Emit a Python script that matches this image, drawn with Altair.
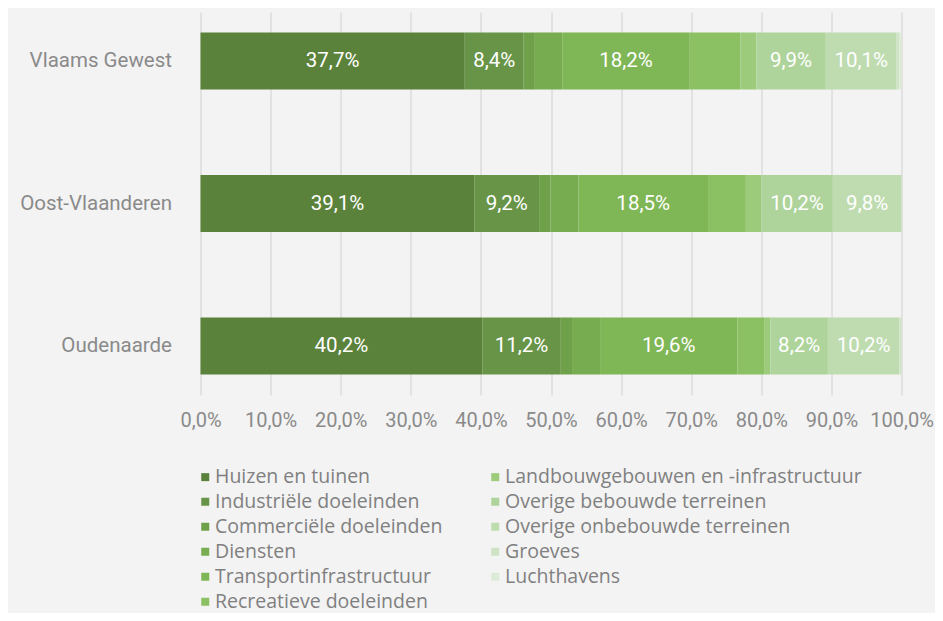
import altair as alt
import pandas as pd

regions = ["Vlaams Gewest", "Oost-Vlaanderen", "Oudenaarde"]
categories = [
    "Huizen en tuinen",
    "Industriële doeleinden",
    "Commerciële doeleinden",
    "Diensten",
    "Transportinfrastructuur",
    "Recreatieve doeleinden",
    "Landbouwgebouwen en -infrastructuur",
    "Overige bebouwde terreinen",
    "Overige onbebouwde terreinen",
    "Groeves",
    "Luchthavens",
]
colors = [
    "#5b823b", "#679446", "#6fa14a", "#77ad50", "#7fb656", "#8bc163",
    "#9ccb7c", "#aed49b", "#bedcb0", "#cfe4c5", "#dcebd5",
]
vlaams = [37.7, 8.4, 1.6, 3.9, 18.2, 7.2, 2.3, 9.9, 10.1, 0.4, 0.3]
oost = [39.1, 9.2, 1.6, 4.0, 18.5, 5.4, 2.2, 10.2, 9.8, 0.1, 0.0]
oudenaarde = [40.2, 11.2, 1.6, 4.0, 19.6, 3.8, 0.9, 8.2, 10.2, 0.3, 0.0]
x_ticks = [0, 10, 20, 30, 40, 50, 60, 70, 80, 90, 100]

rows = []
for reg, vals in zip(regions, [vlaams, oost, oudenaarde]):
    for i, (cat, v) in enumerate(zip(categories, vals)):
        rows.append({"region": reg, "category": cat, "idx": i, "value": v})
df = pd.DataFrame(rows)

FONT = "Roboto"
GRAY = "#8a8a8a"

base = alt.Chart(df).transform_stack(
    stack="value", as_=["x0", "x1"], groupby=["region"],
    sort=[alt.SortField("idx", order="ascending")],
)

y_enc = alt.Y(
    "region:N", sort=regions, title=None,
    scale=alt.Scale(paddingInner=0.6, paddingOuter=0.144),
    axis=alt.Axis(ticks=False, domain=False, labelPadding=29, labelFontSize=20.5,
                  labelColor=GRAY, labelFont=FONT),
)

bars = base.mark_bar(size=57).encode(
    x=alt.X(
        "x0:Q", title=None,
        scale=alt.Scale(domain=[0, 100], nice=False),
        axis=alt.Axis(values=x_ticks, grid=True, gridColor="#d0d0d0", ticks=False,
                      domain=False, labelPadding=15, labelFontSize=20,
                      labelColor=GRAY, labelFont=FONT, labelFlush=False,
                      labelOverlap=False,
                      labelExpr="replace(format(datum.value, '.1f'), '.', ',') + '%'"),
    ),
    x2="x1:Q",
    y=y_enc,
    color=alt.Color(
        "category:N",
        scale=alt.Scale(domain=categories, range=colors),
        legend=alt.Legend(
            title=None, orient="none", legendX=-5, legendY=455, columns=2,
            symbolType="square", symbolSize=64, symbolStrokeWidth=0,
            labelFontSize=19.5, labelColor="#808080", labelFont="Open Sans",
            labelOffset=0, rowPadding=4, columnPadding=43, labelLimit=400,
        ),
    ),
    order=alt.Order("idx:Q"),
)

labels = base.transform_filter("datum.value >= 8").transform_calculate(
    mid="(datum.x0 + datum.x1) / 2",
    lbl="replace(format(datum.value, '.1f'), '.', ',') + '%'",
).mark_text(color="white", fontSize=20.5, font=FONT).encode(
    x="mid:Q",
    y=alt.Y("region:N", sort=regions),
    text="lbl:N",
)

chart = (bars + labels).properties(
    width=701, height=383,
    autosize=alt.AutoSizeParams(type="none"),
    padding={"left": 192.5, "top": 4, "right": 33.5, "bottom": 218},
    background="#f3f3f3",
).configure_view(stroke=None)

chart.save("out.html", embed_options={"renderer": "svg", "actions": False})
